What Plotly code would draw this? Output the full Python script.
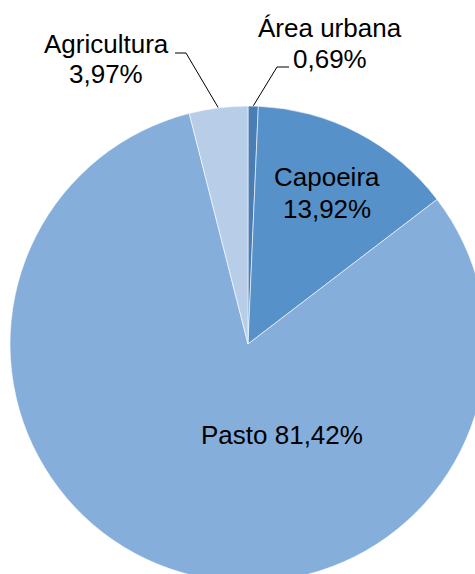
import numpy as np
import plotly.graph_objects as go

# Land-use shares (%)
categories = ["Área urbana", "Capoeira", "Pasto", "Agricultura"]
values = [0.69, 13.92, 81.42, 3.97]
colors = ["#4a7db3", "#5691c9", "#85aedb", "#b8cde8"]

# Canvas is a bit larger than the viewport so the pie runs off the right/bottom edges
W, H = 496, 600
CX, CY, R = 248, 344, 238
FS = 26


def pct(v):
    return f"{v:.2f}".replace(".", ",") + "%"


fig = go.Figure()
fig.add_trace(go.Pie(
    labels=categories,
    values=values,
    sort=False,
    direction="clockwise",
    rotation=0,
    marker=dict(colors=colors, line=dict(color="white", width=0.6)),
    textinfo="none",
    hoverinfo="label+percent",
    showlegend=False,
    domain=dict(x=[(CX - R) / W, (CX + R) / W],
                y=[(H - (CY + R)) / H, (H - (CY - R)) / H]),
))

# Pixel-space overlay axes for the leader lines
fig.add_trace(go.Scatter(x=[None], y=[None], showlegend=False, hoverinfo="skip"))

total = sum(values)
cum = np.cumsum([0] + values[:-1])
mid_deg = (cum + np.array(values) / 2) / total * 360.0


def edge_point(i):
    a = np.deg2rad(mid_deg[i])
    return CX + R * np.sin(a), CY - R * np.cos(a)


# Leader line for Área urbana (index 0) and Agricultura (index 3)
ex, ey = edge_point(0)
fig.add_trace(go.Scatter(x=[ex, 277, 289], y=[ey, 67, 67], mode="lines",
                         line=dict(color="black", width=1), showlegend=False,
                         hoverinfo="skip"))
ex, ey = edge_point(3)
fig.add_trace(go.Scatter(x=[ex, 186, 175], y=[ey, 53, 53], mode="lines",
                         line=dict(color="black", width=1), showlegend=False,
                         hoverinfo="skip"))

labels = [
    (categories[0], 330, 37),
    (pct(values[0]), 330, 68),
    (categories[3], 106, 53),
    (pct(values[3]), 106, 83),
    (categories[1], 327, 186),
    (pct(values[1]), 327, 218),
    (f"{categories[2]} {pct(values[2])}", 282, 444),
]
for txt, x, base in labels:
    fig.add_annotation(x=x, y=base - 9, xref="x", yref="y", text=txt,
                       showarrow=False, xanchor="center", yanchor="middle",
                       font=dict(family="Liberation Sans, Arial", size=FS, color="black"))

fig.update_layout(
    width=W, height=H,
    margin=dict(l=0, r=0, t=0, b=0),
    paper_bgcolor="white",
    plot_bgcolor="rgba(0,0,0,0)",
    xaxis=dict(range=[0, W], visible=False, fixedrange=True),
    yaxis=dict(range=[H, 0], visible=False, fixedrange=True),
)

fig.write_html(
    "out.html",
    post_script="document.documentElement.style.overflow='hidden';"
                "document.body.style.overflow='hidden';document.body.style.margin='0';",
)
